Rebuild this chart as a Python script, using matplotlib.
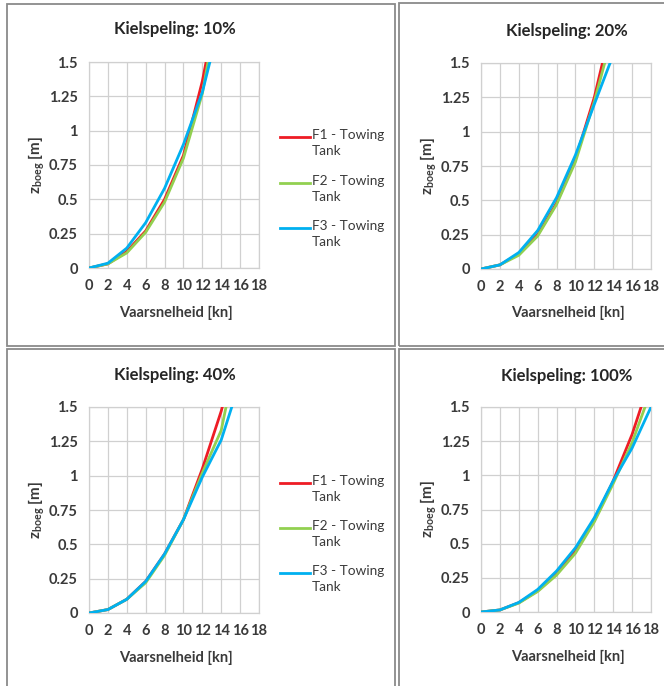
import matplotlib
matplotlib.use("Agg")
import matplotlib.pyplot as plt
from matplotlib.lines import Line2D
from matplotlib.patches import Rectangle

plt.rcParams['font.family'] = ['Lato', 'DejaVu Sans']
plt.rcParams['mathtext.fontset'] = 'custom'
plt.rcParams['mathtext.rm'] = 'Lato:bold'
plt.rcParams['mathtext.it'] = 'Lato:bold'
plt.rcParams['mathtext.bf'] = 'Lato:bold'

# Sailing speed [kn]
speed = [0, 2, 4, 6, 8, 10, 12, 14, 16, 18]

# Bow squat z_boeg [m] per under-keel clearance (Kielspeling)
f1_10 = [0, 0.03, 0.12, 0.27, 0.50, 0.82, 1.36, 2.06]
f2_10 = [0, 0.03, 0.11, 0.26, 0.48, 0.80, 1.27, 2.04]
f3_10 = [0, 0.035, 0.145, 0.33, 0.58, 0.90, 1.28, 1.83]

f1_20 = [0, 0.03, 0.11, 0.25, 0.48, 0.80, 1.25, 1.83]
f2_20 = [0, 0.03, 0.10, 0.24, 0.47, 0.78, 1.22, 1.73]
f3_20 = [0, 0.03, 0.12, 0.28, 0.52, 0.83, 1.20, 1.56]

f1_40 = [0, 0.025, 0.10, 0.23, 0.43, 0.68, 1.05, 1.47, 2.00]
f2_40 = [0, 0.025, 0.10, 0.22, 0.42, 0.68, 1.02, 1.33, 2.00]
f3_40 = [0, 0.025, 0.10, 0.23, 0.43, 0.68, 0.99, 1.26, 1.69]

f1_100 = [0, 0.015, 0.068, 0.155, 0.28, 0.45, 0.67, 0.96, 1.30, 1.72]
f2_100 = [0, 0.015, 0.065, 0.15, 0.27, 0.43, 0.66, 0.94, 1.24, 1.62]
f3_100 = [0, 0.015, 0.07, 0.165, 0.30, 0.47, 0.69, 0.96, 1.20, 1.50]

titles = ["Kielspeling: 10%", "Kielspeling: 20%", "Kielspeling: 40%", "Kielspeling: 100%"]
series_names = ["F1 - Towing\nTank", "F2 - Towing\nTank", "F3 - Towing\nTank"]
colors = ["#ee1c25", "#92d050", "#00b0f0"]
xticks = list(range(0, 19, 2))
yticks = [0, 0.25, 0.5, 0.75, 1, 1.25, 1.5]
ytick_labels = ["0", "0.25", "0.5", "0.75", "1", "1.25", "1.5"]

W, H = 664, 686
fig = plt.figure(figsize=(W / 100, H / 100), dpi=100)
fig.patch.set_facecolor("white")

TXT = "#3a3a3a"
GRID = "#d0d0d0"
BORDER = "#8a8a8a"


def fx(x):
    return x / W


def fy(y):
    return 1 - y / H


def add_box(x0, y0, x1, y1):
    fig.add_artist(Rectangle((fx(x0), fy(y1)), fx(x1) - fx(x0), fy(y0) - fy(y1),
                             transform=fig.transFigure, fill=False,
                             edgecolor=BORDER, linewidth=1.3))


# chart frames
add_box(7, 4, 395, 346)
add_box(399, 3, 680, 346)
add_box(7, 349, 395, 700)
add_box(399, 349, 680, 700)

panels = [
    dict(box=(89, 62, 259, 268), data=[f1_10, f2_10, f3_10], title=titles[0],
         title_y=29, xlabel_y=313, ylabel_x=37, legend_y=[137, 183, 228]),
    dict(box=(481, 63, 651, 269), data=[f1_20, f2_20, f3_20], title=titles[1],
         title_y=31, xlabel_y=313, ylabel_x=429, legend_y=None),
    dict(box=(89, 407, 259, 613), data=[f1_40, f2_40, f3_40], title=titles[2],
         title_y=375, xlabel_y=658, ylabel_x=37, legend_y=[483, 528, 573]),
    dict(box=(481, 407, 651, 612), data=[f1_100, f2_100, f3_100], title=titles[3],
         title_y=376, xlabel_y=657, ylabel_x=429, legend_y=None),
]

for p in panels:
    x0, y0, x1, y1 = p["box"]
    ax = fig.add_axes([fx(x0), fy(y1), fx(x1) - fx(x0), fy(y0) - fy(y1)])
    for vals, c in zip(p["data"], colors):
        ax.plot(speed[:len(vals)], vals, color=c, linewidth=2.0,
                solid_joinstyle="round", zorder=3)
    ax.set_xlim(0, 18)
    ax.set_ylim(0, 1.5)
    ax.set_xticks(xticks)
    ax.set_yticks(yticks)
    ax.set_yticklabels(ytick_labels)
    ax.grid(True, color=GRID, linewidth=0.9)
    ax.set_axisbelow(True)
    for s in ax.spines.values():
        s.set_color(GRID)
        s.set_linewidth(0.9)
    ax.tick_params(length=0, labelsize=10.5, colors=TXT)
    ax.tick_params(axis="x", pad=8)
    ax.tick_params(axis="y", pad=8)
    for lab in ax.get_xticklabels() + ax.get_yticklabels():
        lab.set_fontweight("bold")

    cx = (x0 + x1) / 2
    fig.text(fx(cx + 1), fy(p["title_y"]), p["title"], ha="center", va="center",
             fontsize=12, fontweight="bold", color="#262626")
    fig.text(fx(cx + 2), fy(p["xlabel_y"]), "Vaarsnelheid [kn]", ha="center",
             va="center", fontsize=10.5, fontweight="bold", color=TXT)
    fig.text(fx(p["ylabel_x"]), fy((y0 + y1) / 2), r"z$_{\mathregular{boeg}}$ [m]",
             ha="center", va="center", rotation=90, fontsize=11,
             fontweight="bold", color=TXT)

    if p["legend_y"]:
        for name, c, ly in zip(series_names, colors, p["legend_y"]):
            fig.add_artist(Line2D([fx(280), fx(310)], [fy(ly), fy(ly)],
                                  transform=fig.transFigure, color=c,
                                  linewidth=2.0))
            fig.text(fx(312), fy(ly - 8), name, ha="left", va="top",
                     fontsize=9.8, color=TXT, linespacing=1.4)

fig.savefig("out.png", dpi=100)
